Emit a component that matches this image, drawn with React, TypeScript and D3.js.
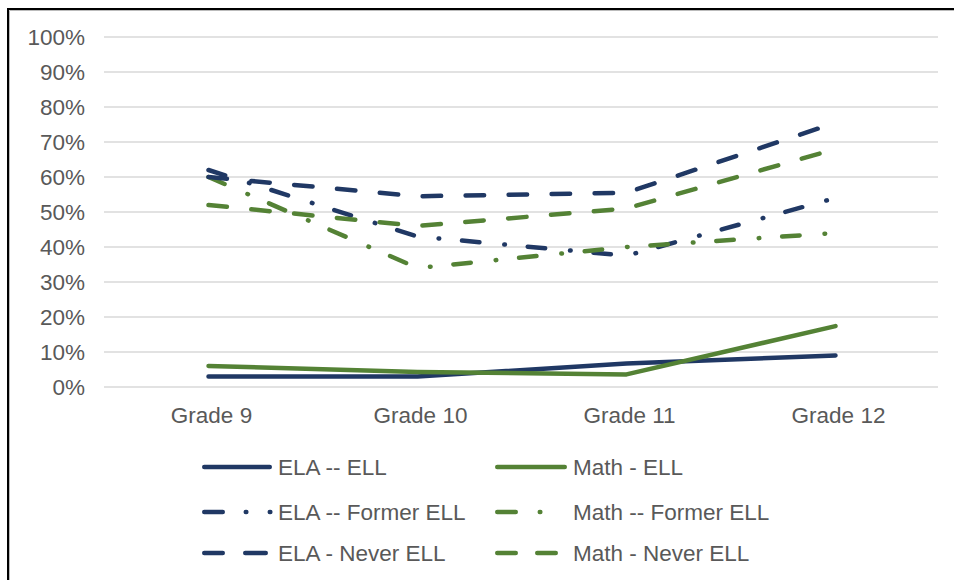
import React from "react";
import * as d3 from "d3";

const categories = ["Grade 9", "Grade 10", "Grade 11", "Grade 12"];
const elaEll = [3, 3, 6.7, 9];
const mathEll = [6, 4.3, 3.6, 17.4];
const elaFormer = [62, 43, 37.5, 54];
const mathFormer = [60, 34, 40, 44];
const elaNever = [60, 54.5, 55.5, 75.5];
const mathNever = [52, 46, 51, 68];
const yTicks = [0, 10, 20, 30, 40, 50, 60, 70, 80, 90, 100];

const NAVY = "#203864";
const GREEN = "#548235";
const TEXT = "#595959";
const FONT = "'Liberation Sans', Arial, sans-serif";
const SW = 4.5;

const seriesList = [
  { name: "ELA -- ELL", values: elaEll, color: NAVY, dash: "none", legDash: "none" },
  { name: "Math - ELL", values: mathEll, color: GREEN, dash: "none", legDash: "none" },
  { name: "ELA -- Former ELL", values: elaFormer, color: NAVY, dash: "17.5 25 0.6 22.9", legDash: "18.5 23 0.6 23.4 0.6 100" },
  { name: "Math -- Former ELL", values: mathFormer, color: GREEN, dash: "17.5 25 0.6 22.9", legDash: "18.5 24 0.6 100" },
  { name: "ELA - Never ELL", values: elaNever, color: NAVY, dash: "18.5 24.5", legDash: "18.5 22.5 20.5 100" },
  { name: "Math - Never ELL", values: mathNever, color: GREEN, dash: "18.5 24.5", legDash: "18.5 21.5 18.5 100" },
];

export default function App() {
  const x = d3.scalePoint<string>().domain(categories).range([104, 940]).padding(0.5);
  const y = d3.scaleLinear().domain([0, 100]).range([387, 37]);
  const line = d3
    .line<number>()
    .x((_, i) => x(categories[i]) as number)
    .y((d) => y(d));

  const legendCols = [202, 495];
  const legendTextX = [278, 573];
  const legendRows = [467, 512, 553];

  return (
    <svg
      width={954}
      height={580}
      style={{ position: "absolute", left: 0, top: 0, background: "#fff" }}
      fontFamily={FONT}
    >
      <rect x={0} y={0} width={954} height={580} fill="#fff" />
      {/* outer frame (top & left visible) */}
      <line x1={8} y1={9} x2={954} y2={9} stroke="#000" strokeWidth={2} />
      <line x1={8} y1={8} x2={8} y2={580} stroke="#000" strokeWidth={2} />
      <line x1={9.5} y1={10.5} x2={954} y2={10.5} stroke="#bbb" strokeWidth={1} />
      <line x1={9.5} y1={10.5} x2={9.5} y2={580} stroke="#bbb" strokeWidth={1} />

      {/* gridlines */}
      {yTicks.map((t) => (
        <line key={t} x1={104} x2={938} y1={y(t)} y2={y(t)} stroke="#d9d9d9" strokeWidth={1.5} />
      ))}
      {/* y tick labels */}
      {yTicks.map((t) => (
        <text
          key={"l" + t}
          x={85}
          y={y(t) + 8}
          textAnchor="end"
          fontSize={22.5}
          fill={TEXT}
        >
          {t + "%"}
        </text>
      ))}
      {/* x labels */}
      {categories.map((c) => (
        <text key={c} x={(x(c) as number) + 3} y={423} textAnchor="middle" fontSize={22.5} fill={TEXT}>
          {c}
        </text>
      ))}

      {/* series */}
      {seriesList.map((s) => (
        <path
          key={s.name}
          d={line(s.values) as string}
          fill="none"
          stroke={s.color}
          strokeWidth={SW}
          strokeLinecap="round"
          strokeLinejoin="round"
          strokeDasharray={s.dash === "none" ? undefined : s.dash}
        />
      ))}

      {/* legend */}
      {seriesList.map((s, i) => {
        const col = i % 2;
        const row = Math.floor(i / 2);
        const ly = legendRows[row];
        const x0 = legendCols[col];
        const x1 = col === 0 ? 272 : 567;
        const solid = s.legDash === "none";
        return (
          <g key={"lg" + s.name}>
            <line
              x1={x0 + 2.25}
              x2={solid ? x1 - 2.25 : x1}
              y1={ly}
              y2={ly}
              stroke={s.color}
              strokeWidth={SW}
              strokeLinecap="round"
              strokeDasharray={solid ? undefined : s.legDash}
            />
            <text x={legendTextX[col]} y={ly + 8} fontSize={22.5} fill={TEXT}>
              {s.name}
            </text>
          </g>
        );
      })}
    </svg>
  );
}
